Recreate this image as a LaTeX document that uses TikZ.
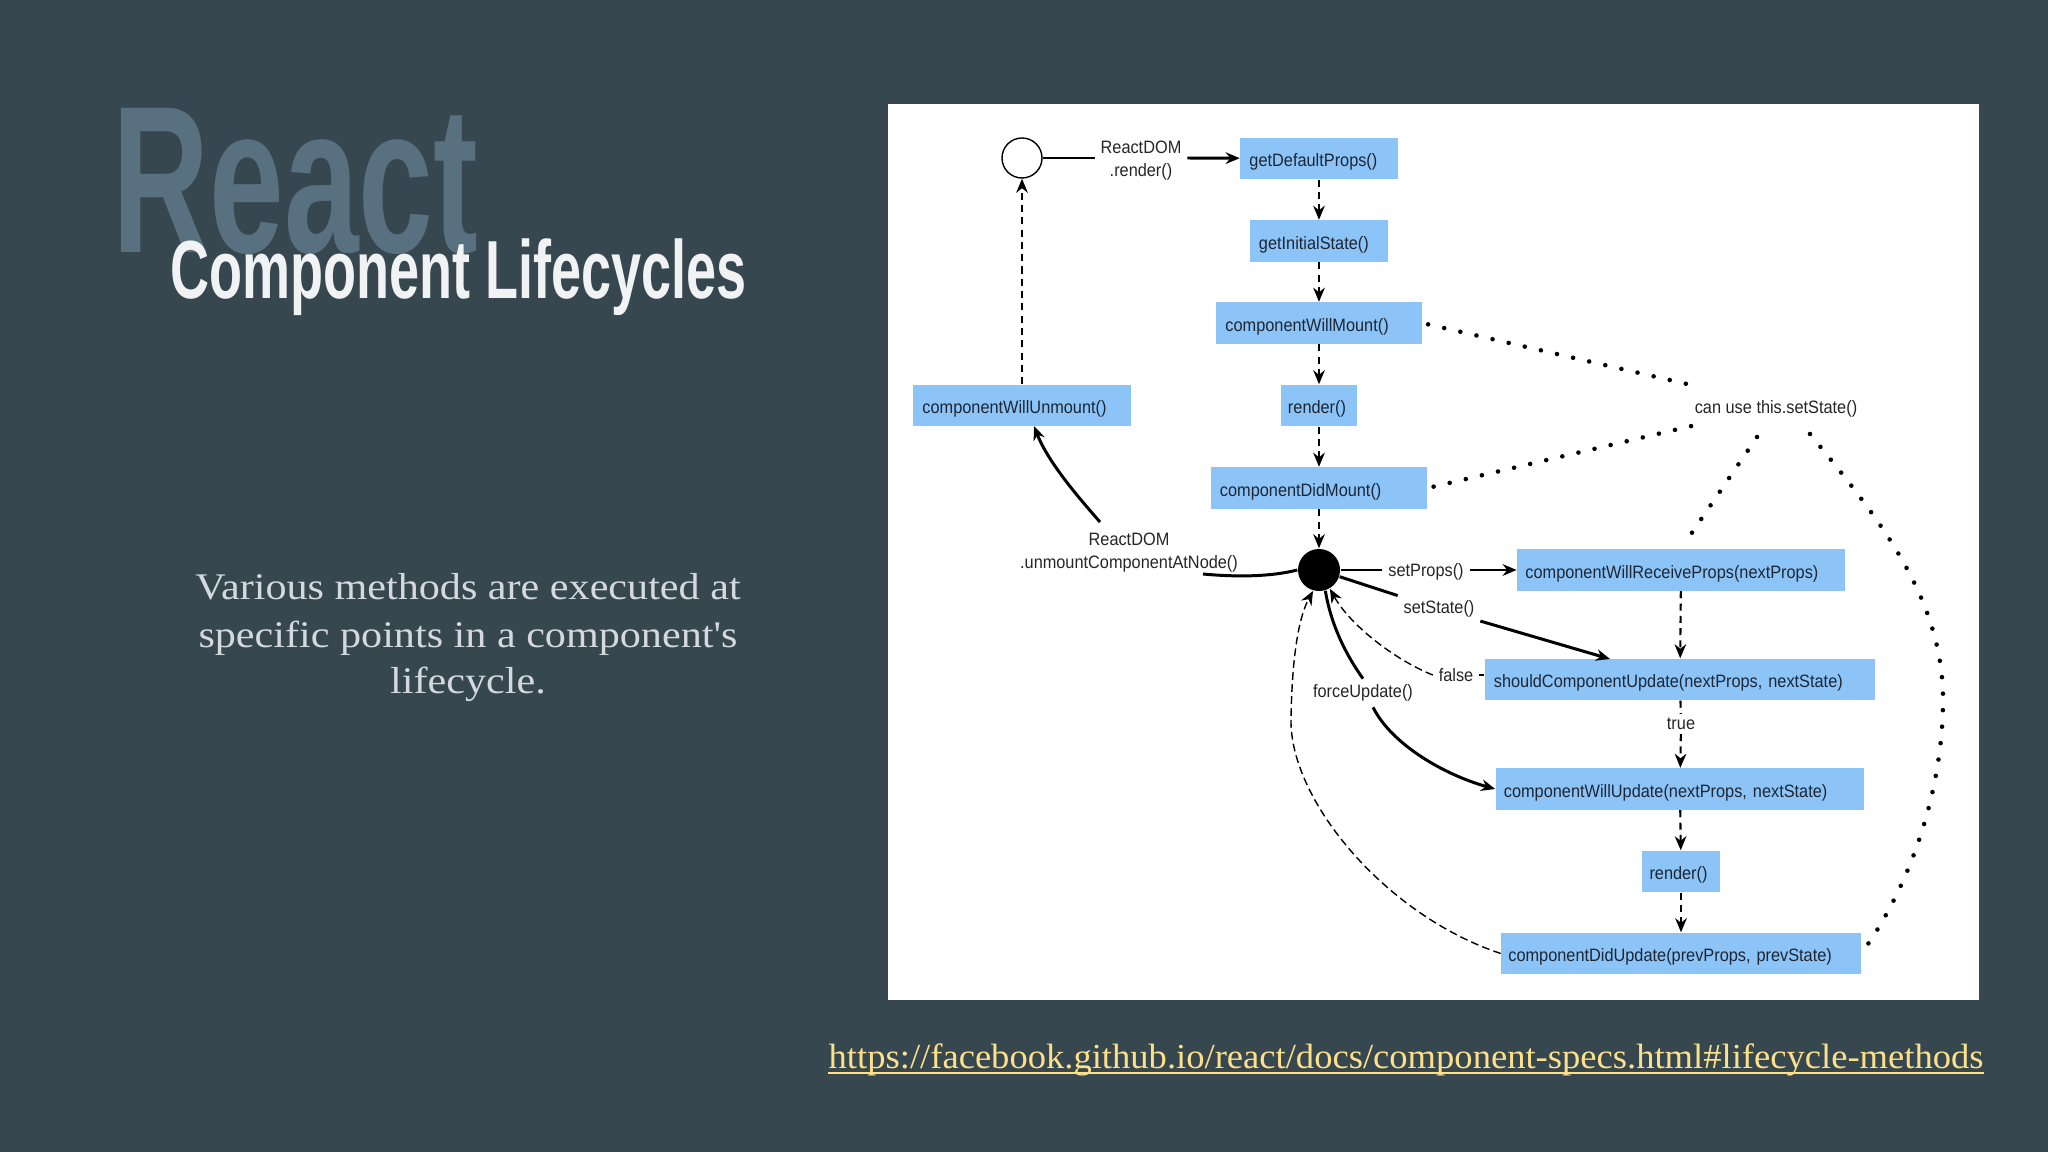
\documentclass[tikz,border=0pt]{standalone}
\usepackage{fontspec}
\usetikzlibrary{arrows.meta}
\newfontfamily\dgfont[FakeStretch=0.91]{Liberation Sans}
\newfontfamily\reactfont[FakeStretch=0.64]{Liberation Sans}
\newfontfamily\titlefont[FakeStretch=0.655]{Liberation Sans}
\newfontfamily\bodyfont[FakeStretch=1.12]{Liberation Serif}
\newfontfamily\urlfont[FakeStretch=1.04]{Liberation Serif}
\definecolor{bgcol}{HTML}{37474F}
\definecolor{reactcol}{HTML}{587080}
\definecolor{titlecol}{HTML}{F0F2F4}
\definecolor{bodycol}{HTML}{D3D9DE}
\definecolor{urlcol}{HTML}{FCE08A}
\definecolor{boxblue}{HTML}{8CC4F8}
\definecolor{boxtext}{HTML}{1C2634}
\newcommand{\bxt}[2]{\hspace*{#1}\raisebox{0pt}[4.6pt][0pt]{#2}}
\begin{document}
\begin{tikzpicture}[x=0.01cm,y=-0.01cm,
  lcbox/.style={fill=boxblue, inner sep=0pt, minimum height=0.41cm, text width=#1, align=left,
    font=\dgfont\fontsize{5.1}{6}\selectfont, text=boxtext},
  lbl/.style={font=\dgfont\fontsize{5.1}{6.5}\selectfont, inner sep=1.5pt, align=center, text=black!85},
  thickline/.style={line width=0.85pt, draw=black},
  arr/.style={-{Stealth[length=4pt,width=3.3pt,inset=1.3pt]}},
  dsh/.style={line width=0.6pt, dash pattern=on 2pt off 1.5pt},
  thindsh/.style={line width=0.4pt, dash pattern=on 2.2pt off 1.2pt},
  dotl/.style={line width=1.3pt, line cap=round, dash pattern=on 0pt off 4.7pt}
]
\fill[bgcol] (0,0) rectangle (2048,1152);
\useasboundingbox (0,0) rectangle (2048,1152);
\fill[white] (888,104) rectangle (1979,1000);

% left texts
\node[anchor=base west, inner sep=0, text=reactcol, font=\reactfont\bfseries\fontsize{59.6}{60}\selectfont] (rt) at (112,253) {React};
\node[anchor=base west, inner sep=0, text=titlecol, font=\titlefont\bfseries\fontsize{23.45}{24}\selectfont] (tt) at (170,299) {Component Lifecycles};
\node[anchor=base, inner sep=0, text=bodycol, font=\bodyfont\fontsize{10.7}{13.4}\selectfont] (b1) at (468,600) {Various methods are executed at};
\node[anchor=base, inner sep=0, text=bodycol, font=\bodyfont\fontsize{10.7}{13.4}\selectfont] (b2) at (468,647) {specific points in a component{\char39}s};
\node[anchor=base, inner sep=0, text=bodycol, font=\bodyfont\fontsize{10.7}{13.4}\selectfont] (b3) at (468,693) {lifecycle.};
\node[anchor=base west, inner sep=0, text=urlcol, font=\urlfont\fontsize{10}{12}\selectfont] (url) at (828,1068) {https://facebook.github.io/react/docs/component-specs.html\#lifecycle-methods};
\draw[urlcol, line width=0.55pt] ([yshift=-1.4pt]url.base west) -- ([yshift=-1.4pt]url.base east);

% diagram nodes
\node[circle, draw=black, line width=0.4pt, fill=white, minimum size=0.4cm, inner sep=0] (c0) at (1022,158) {};
\node[lcbox=1.57cm] (gdp) at (1319,158.5) {\bxt{0.09cm}{getDefaultProps()}};
\node[lcbox=1.38cm] (gis) at (1319,241) {\bxt{0.09cm}{getInitialState()}};
\node[lcbox=2.05cm] (cwm) at (1319,323) {\bxt{0.09cm}{componentWillMount()}};
\node[lcbox=0.76cm] (r1) at (1319,405.5) {\bxt{0.07cm}{render()}};
\node[lcbox=2.16cm] (cdm) at (1319,488) {\bxt{0.09cm}{componentDidMount()}};
\node[lcbox=2.17cm] (cwu) at (1022,405.5) {\bxt{0.09cm}{componentWillUnmount()}};
\node[circle, fill=black, minimum size=0.42cm, inner sep=0] (dot) at (1319,570) {};
\node[lcbox=3.27cm] (cwrp) at (1681,570) {\bxt{0.08cm}{componentWillReceiveProps(nextProps)}};
\node[lcbox=3.90cm] (scu) at (1680,679.5) {\bxt{0.09cm}{shouldComponentUpdate(nextProps, nextState)}};
\node[lcbox=3.68cm] (cwup) at (1680,789) {\bxt{0.08cm}{componentWillUpdate(nextProps, nextState)}};
\node[lcbox=0.77cm] (r2) at (1681,871.5) {\bxt{0.07cm}{render()}};
\node[lcbox=3.59cm] (cdu) at (1681,953.5) {\bxt{0.07cm}{componentDidUpdate(prevProps, prevState)}};

% labels
\node[lbl] (rl) at (1141,160.5) {ReactDOM\\.render()};
\node[lbl] (um) at (1129,552.5) {ReactDOM\\.unmountComponentAtNode()};
\node[lbl] (cs) at (1776,409) {can use this.setState()};
\node[lbl] (sp) at (1426,572) {setProps()};
\node[lbl] (ss) at (1439,609) {setState()};
\node[lbl] (fl) at (1456,675) {false};
\node[lbl] (fu) at (1363,693) {forceUpdate()};
\node[lbl, fill=white, inner sep=1pt] (tr) at (1681,724) {true};

% named free ends
\coordinate (csA) at (1700,387);
\coordinate (csB) at (1700,424);
\coordinate (csC) at (1757,437);
\coordinate (csD) at (1810,434);
\coordinate (scuT) at (1610,659);
\coordinate (umT) at (1100,522);
\coordinate (umR) at (1203,574);
\coordinate (cwuB) at (1034,426);

% mount chain
\draw[thickline] (c0) -- (c0 -| rl.west);
\draw[thickline,arr] (rl.east |- c0) -- (gdp);
\draw[dsh,arr] (gdp) -- (gis);
\draw[dsh,arr] (gis) -- (cwm);
\draw[dsh,arr] (cwm) -- (r1);
\draw[dsh,arr] (r1) -- (cdm);
\draw[dsh,arr] (cdm) -- (dot);
\draw[dsh,arr] (cwu) -- (c0);

% update chain
\draw[thickline] (dot) -- (dot -| sp.west);
\draw[thickline,arr] (sp.east |- dot) -- (cwrp);
\draw[thickline] (dot) -- (ss);
\draw[thickline,arr] (ss) -- (scuT);
\draw[dsh,arr] (cwrp) -- (scu);
\draw[dsh] (scu) -- (tr);
\draw[dsh,arr] (tr) -- (cwup);
\draw[dsh,arr] (cwup) -- (r2);
\draw[dsh,arr] (r2) -- (cdu);

% force update
\draw[thickline] (dot.-73) .. controls (1331,625) and (1346,655) .. (fu.north);
\draw[thickline,arr] (fu.-55) .. controls (1392,745) and (1445,775) .. (cwup.west);

% false
\draw[thindsh] (fl) -- (fl -| scu.west);
\draw[thindsh,arr] (fl.west) .. controls (1395,660) and (1350,625) .. (dot.-60);

% did update back to dot
\draw[thindsh,arr] (cdu.west) .. controls (1385,915) and (1290,800) .. (1291,720) .. controls (1292,650) and (1300,615) .. (dot.-106);

% unmount
\draw[thickline] (dot.west) .. controls (1270,577) and (1235,577) .. (umR);
\draw[thickline,arr] (umT) .. controls (1078,497) and (1048,462) .. (cwuB);

% dotted setState hints
\draw[dotl, shorten <=0.06cm] (cwm.east) -- (csA);
\draw[dotl, shorten <=0.06cm] (cdm.east) -- (csB);
\draw[dotl, shorten >=0.04cm] (csC) -- (cwrp.north);
\draw[dotl, shorten >=0.03cm] (csD) .. controls (1880,520) and (1945,600) .. (1943,705) .. controls (1941,810) and (1900,900) .. (cdu.east);
\end{tikzpicture}
\end{document}
